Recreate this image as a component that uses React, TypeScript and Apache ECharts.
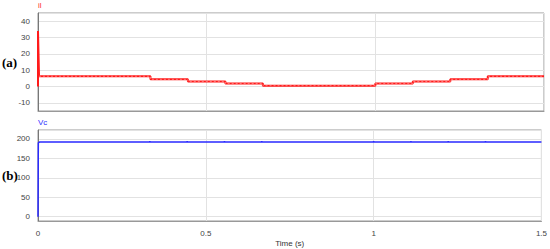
import React, { useEffect, useRef } from "react";
import * as echarts from "echarts";

// il (A): [time s, value]
const ilTimes = [0, 0, 0.003, 1 / 3, 1 / 3, 4 / 9, 4 / 9, 5 / 9, 5 / 9, 2 / 3, 2 / 3, 1, 1, 10 / 9, 10 / 9, 11 / 9, 11 / 9, 4 / 3, 4 / 3, 1.5];
const ilValues = [0, 34, 6.3, 6.3, 4.4, 4.4, 3.1, 3.1, 1.8, 1.8, 0.5, 0.5, 1.9, 1.9, 3.1, 3.1, 4.4, 4.4, 6.3, 6.3];

// Vc (V): [time s, value]
const vcTimes = [0, 0.001, 0.004, 1 / 3, 1 / 3, 1 / 3, 4 / 9, 4 / 9, 4 / 9, 5 / 9, 5 / 9, 5 / 9, 2 / 3, 2 / 3, 2 / 3, 1, 1, 1, 10 / 9, 10 / 9, 10 / 9, 11 / 9, 11 / 9, 11 / 9, 4 / 3, 4 / 3, 4 / 3, 1.5];
const vcValues = [0, 190, 192, 192, 195, 192, 192, 195, 192, 192, 195, 192, 192, 195, 192, 192, 195, 192, 192, 195, 192, 192, 195, 192, 192, 195, 192, 192];

const xTicks = [0, 0.5, 1, 1.5];
const panelLabels = ["(a)", "(b)"];
const seriesNames = ["il", "Vc"];

export default function App() {
  const ref = useRef<HTMLDivElement>(null);
  useEffect(() => {
    if (!ref.current) return;
    const chart = echarts.init(ref.current, null, { renderer: "svg" });
    const font = "Liberation Sans";
    const ilData = ilTimes.map((t, i) => [t, ilValues[i]]);
    const vcData = vcTimes.map((t, i) => [t, vcValues[i]]);
    const yAxisCommon = {
      type: "value",
      axisLine: { show: true, lineStyle: { color: "#777", width: 1 } },
      axisTick: { show: false },
      axisLabel: { color: "#444", fontSize: 8, fontFamily: font, margin: 8, showMinLabel: false, showMaxLabel: false },
      splitLine: { show: true, lineStyle: { color: "#e2e2e2", width: 1 } },
    };
    const xAxisCommon = {
      type: "value",
      min: 0,
      max: 1.5,
      interval: 0.5,
      axisLine: { show: true, onZero: false, lineStyle: { color: "#999", width: 1 } },
      axisTick: { show: false },
      splitLine: { show: true, lineStyle: { color: "#e2e2e2", width: 1 } },
    };
    chart.setOption({
      animation: false,
      backgroundColor: "#fff",
      grid: [
        { left: 38, top: 13, width: 506, height: 98, show: true, borderColor: "#999", borderWidth: 1, backgroundColor: "transparent" },
        { left: 38, top: 130, width: 506, height: 91, show: true, borderColor: "#999", borderWidth: 1, backgroundColor: "transparent" },
      ],
      xAxis: [
        { ...xAxisCommon, gridIndex: 0, axisLabel: { show: false } },
        {
          ...xAxisCommon,
          gridIndex: 1,
          name: "Time (s)",
          nameLocation: "middle",
          nameGap: 18,
          nameTextStyle: { color: "#333", fontSize: 8, fontFamily: font },
          axisLabel: {
            color: "#444",
            fontSize: 8,
            fontFamily: font,
            margin: 8,
            formatter: (v: number) => (xTicks.includes(v) ? String(v) : ""),
          },
        },
      ],
      yAxis: [
        { ...yAxisCommon, gridIndex: 0, min: -15, max: 45, splitNumber: 6 },
        { ...yAxisCommon, gridIndex: 1, min: -11, max: 223, splitNumber: 5 },
      ],
      series: [
        {
          type: "line",
          name: seriesNames[0],
          xAxisIndex: 0,
          yAxisIndex: 0,
          data: ilData,
          showSymbol: false,
          lineStyle: { color: "#ff1a1a", width: 2 },
        },
        {
          type: "line",
          name: seriesNames[0] + "-ripple",
          xAxisIndex: 0,
          yAxisIndex: 0,
          data: ilData.slice(2),
          showSymbol: false,
          lineStyle: { color: "#ffa0a0", width: 0.7, type: [2, 2] },
          z: 3,
        },
        {
          type: "line",
          name: seriesNames[1],
          xAxisIndex: 1,
          yAxisIndex: 1,
          data: vcData,
          showSymbol: false,
          lineStyle: { color: "#2a2aff", width: 1.5 },
        },
      ],
      graphic: [
        { type: "text", left: 38, top: 1, style: { text: seriesNames[0], fill: "#ff3030", font: `8px "${font}"` } },
        { type: "text", left: 38, top: 118, style: { text: seriesNames[1], fill: "#3030ff", font: `8px "${font}"` } },
        { type: "text", left: 2, top: 56, style: { text: panelLabels[0], fill: "#000", font: `bold 13px "Liberation Serif"` } },
        { type: "text", left: 2, top: 169, style: { text: panelLabels[1], fill: "#000", font: `bold 13px "Liberation Serif"` } },
      ],
    });
    return () => chart.dispose();
  }, []);
  return <div ref={ref} style={{ position: "absolute", left: 0, top: 0, width: 550, height: 249 }} />;
}
